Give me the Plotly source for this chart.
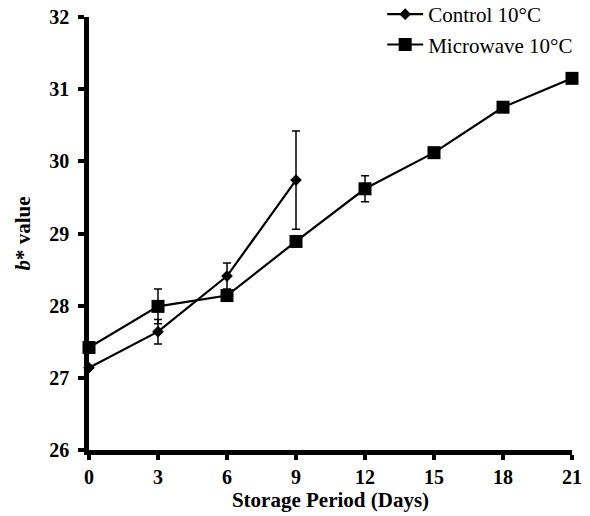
import plotly.graph_objects as go

days_control = [0, 3, 6, 9]
control = [27.14, 27.64, 28.41, 29.74]
control_err = [0.0, 0.17, 0.18, 0.68]

days_mw = [0, 3, 6, 9, 12, 15, 18, 21]
microwave = [27.42, 27.99, 28.14, 28.89, 29.62, 30.12, 30.75, 31.15]
microwave_err = [0.0, 0.24, 0.0, 0.0, 0.18, 0.0, 0.0, 0.0]

x_ticks = [0, 3, 6, 9, 12, 15, 18, 21]
y_ticks = [26, 27, 28, 29, 30, 31, 32]

font = "Liberation Serif, Times New Roman, serif"

fig = go.Figure()
fig.add_trace(go.Scatter(
    x=days_control, y=control, name="Control 10°C", mode="lines+markers",
    line=dict(color="black", width=2.2),
    marker=dict(symbol="diamond", size=9, color="black"),
    error_y=dict(type="data", array=control_err, visible=True, color="black", thickness=1.5, width=4),
    cliponaxis=False,
))
fig.add_trace(go.Scatter(
    x=days_mw, y=microwave, name="Microwave 10°C", mode="lines+markers",
    line=dict(color="black", width=2.2),
    marker=dict(symbol="square", size=13, color="black"),
    error_y=dict(type="data", array=microwave_err, visible=True, color="black", thickness=1.5, width=4),
    cliponaxis=False,
))

fig.update_layout(
    width=590, height=516,
    margin=dict(l=89, r=18, t=17, b=66, autoexpand=False),
    plot_bgcolor="white", paper_bgcolor="white",
    font=dict(family=font, color="black"),
    showlegend=True,
    legend=dict(x=0.607, y=1.053, xanchor="left", yanchor="top",
                font=dict(family=font, size=21, color="black"),
                bgcolor="rgba(0,0,0,0)", tracegroupgap=0, itemwidth=36),
    xaxis=dict(range=[0, 21], tickvals=x_ticks, ticktext=["<b>%d</b>" % v for v in x_ticks],
               showline=True, linecolor="black", linewidth=4.5, ticks="outside",
               tickwidth=4, ticklen=5, tickcolor="black", showgrid=False, zeroline=False,
               automargin=False,
               tickfont=dict(family=font, size=20, color="black"),
               title=dict(text="<b>Storage Period (Days)</b>", font=dict(family=font, size=21), standoff=6)),
    yaxis=dict(range=[26, 32], tickvals=y_ticks, ticktext=["<b>%d</b>" % v for v in y_ticks],
               showline=True, linecolor="black", linewidth=4.5, ticks="outside",
               tickwidth=4, ticklen=6, tickcolor="black", showgrid=False, zeroline=False,
               automargin=False, ticklabelstandoff=5,
               tickfont=dict(family=font, size=20, color="black"),
               title=dict(text="<b><i>b</i>* value</b>", font=dict(family=font, size=21), standoff=14)),
)

fig.write_html("out.html")
